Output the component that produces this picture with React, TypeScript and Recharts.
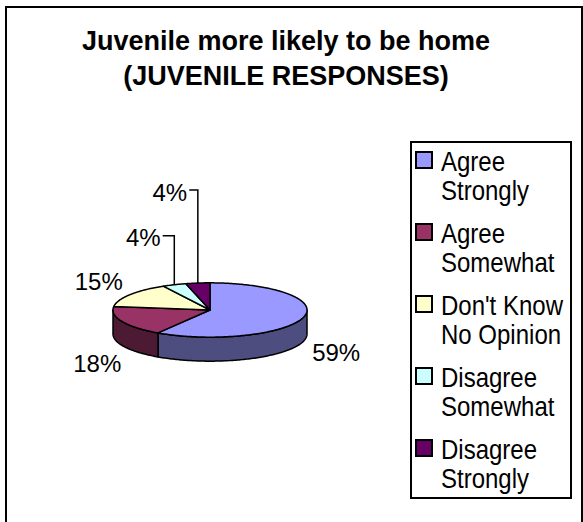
import React from 'react';
import { PieChart, Pie, Legend } from 'recharts';

const CATEGORIES = [
    ['Agree', 'Strongly'],
    ['Agree', 'Somewhat'],
    ["Don't Know", 'No Opinion'],
    ['Disagree', 'Somewhat'],
    ['Disagree', 'Strongly'],
];
const VALUES = [59, 18, 15, 4, 4];
const LABELS = ['59%', '18%', '15%', '4%', '4%'];
const COLORS = ['#9999FF', '#993366', '#FFFFCC', '#CCFFFF', '#660066'];
const SIDE_COLORS = ['#4D4D80', '#4D1A33', '#80806A', '#6A8080', '#330033'];

const data = VALUES.map((v, i) => ({ name: CATEGORIES[i].join(' '), value: v, fill: COLORS[i] }));

const FONT = '"Liberation Sans", Arial, sans-serif';
const RAD = Math.PI / 180;
const TILT = 0.28;
const DEPTH = 24;

// label placement relative to the slice's mid point on the rim
const LABEL_OFFSETS = [
    [33, 35],
    [-25, 42],
    [-31, -13],
    [-31, -47],
    [-28, -91],
];
const LEADER = [false, false, false, true, true];

const rimPoint = (cx: number, cy: number, r: number, a: number, dy = 0) => [
    cx + r * Math.cos(a * RAD),
    cy - r * TILT * Math.sin(a * RAD) + dy,
];

const Slice3D = (props: any) => {
    const { cx, cy, outerRadius, startAngle, endAngle, index } = props;
    const lo = Math.min(startAngle, endAngle);
    const hi = Math.max(startAngle, endAngle);
    const arc = (a: number, b: number, dy = 0) => {
        const n = Math.max(2, Math.ceil(Math.abs(b - a)));
        const pts: number[][] = [];
        for (let i = 0; i <= n; i++) pts.push(rimPoint(cx, cy, outerRadius, a + ((b - a) * i) / n, dy));
        return pts;
    };
    // outer wall, only on the front half of the ellipse
    const walls: string[] = [];
    for (let k = -2; k <= 2; k++) {
        const a = Math.max(lo, -180 + 360 * k);
        const b = Math.min(hi, 360 * k);
        if (b > a) {
            const pts = [...arc(a, b), ...arc(b, a, DEPTH)];
            walls.push('M' + pts.map((p) => p.join(',')).join('L') + 'Z');
        }
    }
    const top = [[cx, cy], ...arc(startAngle, endAngle)];
    return (
        <g>
            {walls.map((d, i) => (
                <path key={`w-${i}`} d={d} fill={SIDE_COLORS[index]} stroke="#000" strokeWidth={1.5} strokeLinejoin="round" />
            ))}
            <path
                d={'M' + top.map((p) => p.join(',')).join('L') + 'Z'}
                fill={COLORS[index]}
                stroke="#000"
                strokeWidth={1.5}
                strokeLinejoin="round"
            />
        </g>
    );
};

const renderLabel = (props: any) => {
    const { cx, cy, outerRadius, midAngle, index } = props;
    const [px, py] = rimPoint(cx, cy, outerRadius, midAngle);
    const x = px + LABEL_OFFSETS[index][0];
    const y = py + LABEL_OFFSETS[index][1];
    const halfW = LABELS[index].length * 8.7;
    return (
        <g key={`lbl-${index}`}>
            {LEADER[index] && (
                <polyline
                    points={`${x + halfW + 2},${y - 2} ${px},${y - 2} ${px},${py}`}
                    fill="none"
                    stroke="#000"
                    strokeWidth={1.5}
                />
            )}
            <text x={x} y={y} textAnchor="middle" dominantBaseline="central" fontFamily={FONT} fontSize={24} fill="#000">
                {LABELS[index]}
            </text>
        </g>
    );
};

const LegendBox = () => (
    <div
        style={{
            width: 158,
            height: 354,
            border: '2px solid #000',
            background: '#fff',
            fontFamily: FONT,
            fontSize: 24,
            color: '#000',
            boxSizing: 'content-box',
        }}
    >
        {CATEGORIES.map((lines, i) => (
            <div key={`lg-${i}`} style={{ position: 'absolute', left: 5, top: 8 + i * 72 }}>
                <span
                    style={{
                        position: 'absolute',
                        left: 0,
                        top: 2,
                        width: 14,
                        height: 14,
                        background: COLORS[i],
                        border: '2px solid #000',
                    }}
                />
                <div
                    style={{
                        position: 'absolute',
                        left: 26,
                        top: -2,
                        lineHeight: '26px',
                        whiteSpace: 'nowrap',
                        transform: 'scaleY(1.12)',
                        transformOrigin: 'left top',
                    }}
                >
                    {lines[0]}
                    <br />
                    {lines[1]}
                </div>
            </div>
        ))}
    </div>
);

export default function App() {
    return (
        <div style={{ position: 'fixed', left: 0, top: 0, width: 583, height: 522, overflow: 'hidden', background: '#fff' }}>
            <div
                style={{
                    position: 'absolute',
                    left: 5,
                    top: 6,
                    width: 574,
                    height: 530,
                    border: '2px solid #000',
                }}
            />
            <div
                style={{
                    position: 'absolute',
                    left: 0,
                    top: 24,
                    width: 572,
                    textAlign: 'center',
                    fontFamily: FONT,
                    fontWeight: 'bold',
                    fontSize: 27,
                    lineHeight: '35px',
                    color: '#000',
                }}
            >
                Juvenile more likely to be home
                <br />
                (JUVENILE RESPONSES)
            </div>
            <div style={{ position: 'absolute', left: 0, top: 0 }}>
                <PieChart width={583} height={522} margin={{ top: 0, right: 0, bottom: 0, left: 0 }}>
                    <Pie
                        data={data}
                        dataKey="value"
                        nameKey="name"
                        cx={210}
                        cy={310}
                        outerRadius={97}
                        startAngle={90}
                        endAngle={-270}
                        shape={Slice3D}
                        label={renderLabel}
                        labelLine={false}
                        isAnimationActive={false}
                    />
                    <Legend
                        content={<LegendBox />}
                        wrapperStyle={{ position: 'absolute', left: 410, top: 141, width: 'auto', height: 'auto' }}
                    />
                </PieChart>
            </div>
        </div>
    );
}
